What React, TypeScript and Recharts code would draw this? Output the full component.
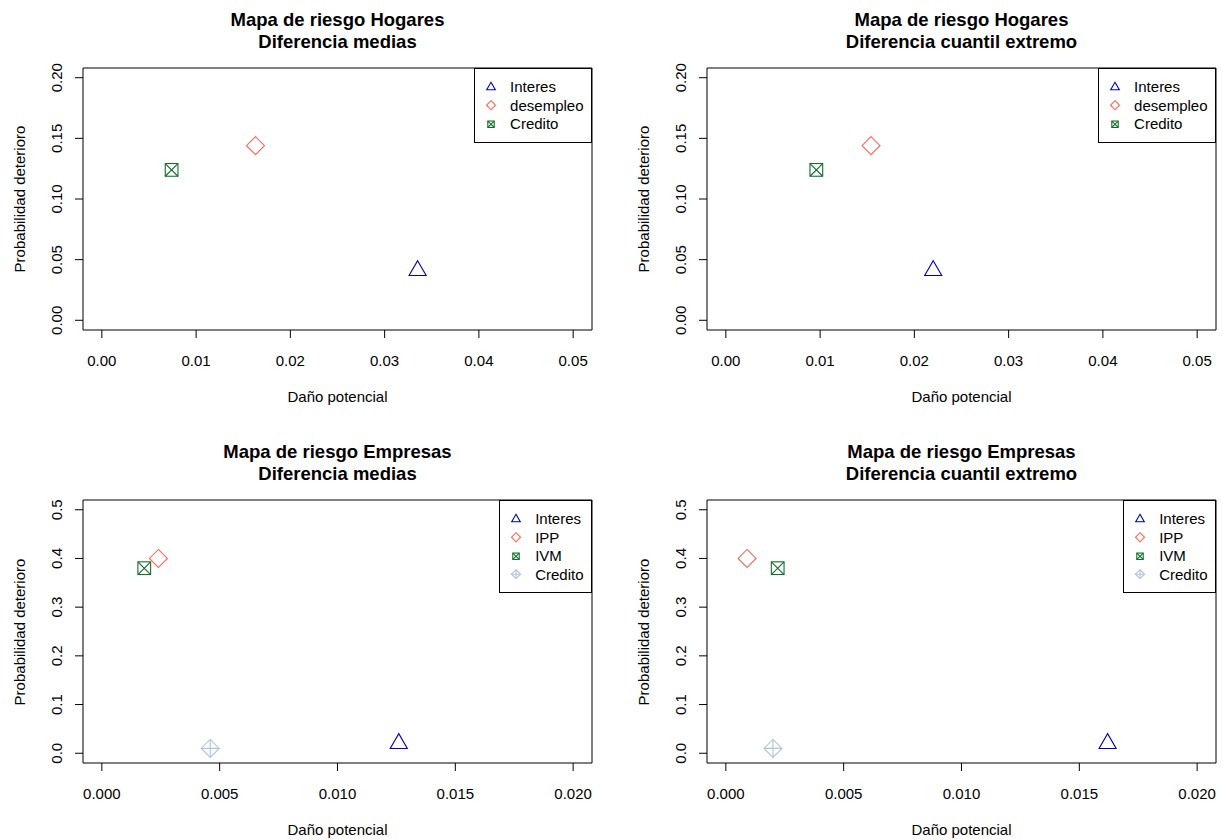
import { ScatterChart, Scatter, XAxis, YAxis, ReferenceArea } from 'recharts'

// Series names (legend order) for each row of panels
const hogaresSeries = ['Interes', 'desempleo', 'Credito']
const empresasSeries = ['Interes', 'IPP', 'IVM', 'Credito']

// Daño potencial (x) and Probabilidad deterioro (y), same order as the series
const hogaresMediasDano = [0.0335, 0.0163, 0.0074]
const hogaresMediasProb = [0.041, 0.144, 0.124]
const hogaresCuantilDano = [0.022, 0.0154, 0.0096]
const hogaresCuantilProb = [0.041, 0.144, 0.124]

const empresasMediasDano = [0.0126, 0.0024, 0.0018, 0.0046]
const empresasMediasProb = [0.02, 0.4, 0.38, 0.01]
const empresasCuantilDano = [0.0162, 0.0009, 0.0022, 0.002]
const empresasCuantilProb = [0.02, 0.4, 0.38, 0.01]

// Tick labels
const hogaresXTicks = [0, 0.01, 0.02, 0.03, 0.04, 0.05]
const hogaresYTicks = [0, 0.05, 0.1, 0.15, 0.2]
const empresasXTicks = [0, 0.005, 0.01, 0.015, 0.02]
const empresasYTicks = [0, 0.1, 0.2, 0.3, 0.4, 0.5]

// styles (R pch 2, 5, 7, 9)
type Shape = 'triangle' | 'diamond' | 'squareX' | 'diamondPlus'
const hogaresShapes: Shape[] = ['triangle', 'diamond', 'squareX']
const hogaresColors = ['#0000CD', '#FA6A5C', '#12702A']
const empresasShapes: Shape[] = ['triangle', 'diamond', 'squareX', 'diamondPlus']
const empresasColors = ['#0000CD', '#FA6A5C', '#12702A', '#B0C4DE']

const FONT = '"Liberation Sans", Arial, Helvetica, sans-serif'

// R pads the axis range by 4% on each side
const padRange = (ticks: number[]): [number, number] => {
  const lo = ticks[0]
  const hi = ticks[ticks.length - 1]
  const d = (hi - lo) * 0.04
  return [lo - d, hi + d]
}

function Marker({ cx, cy, shape, color, xc }: { cx: number; cy: number; shape: Shape; color: string; xc: number }) {
  const common = { fill: 'none', stroke: color, strokeWidth: 1.1 }
  if (shape === 'triangle') {
    const r = 1.555 * xc
    const hw = r * 0.866
    return <polygon points={`${cx},${cy - r} ${cx + hw},${cy + r / 2} ${cx - hw},${cy + r / 2}`} {...common} />
  }
  if (shape === 'diamond' || shape === 'diamondPlus') {
    const d = xc * 1.414
    return (
      <g {...common}>
        <polygon points={`${cx},${cy - d} ${cx + d},${cy} ${cx},${cy + d} ${cx - d},${cy}`} />
        {shape === 'diamondPlus' && (
          <path d={`M${cx - d},${cy}H${cx + d}M${cx},${cy - d}V${cy + d}`} />
        )}
      </g>
    )
  }
  return (
    <g {...common}>
      <rect x={cx - xc} y={cy - xc} width={xc * 2} height={xc * 2} />
      <path d={`M${cx - xc},${cy - xc}L${cx + xc},${cy + xc}M${cx - xc},${cy + xc}L${cx + xc},${cy - xc}`} />
    </g>
  )
}

interface PanelProps {
  left: number
  top: number
  width: number
  height: number
  mTop: number
  mRight: number
  mBottom: number
  yAxisWidth: number
  title: string[]
  series: string[]
  shapes: Shape[]
  colors: string[]
  xs: number[]
  ys: number[]
  xTicks: number[]
  yTicks: number[]
  xDigits: number
  yDigits: number
}

function Panel(p: PanelProps) {
  const xDomain = padRange(p.xTicks)
  const yDomain = padRange(p.yTicks)
  const plotLeft = p.yAxisWidth
  const plotRight = p.width - p.mRight
  const plotTop = p.mTop
  const plotBottom = p.height - p.mBottom - 40
  const cx = (plotLeft + plotRight) / 2
  const cy = (plotTop + plotBottom) / 2

  return (
    <div style={{ position: 'absolute', left: p.left, top: p.top, width: p.width, height: p.height }}>
      <ScatterChart
        width={p.width}
        height={p.height}
        margin={{ top: p.mTop, right: p.mRight, bottom: p.mBottom, left: 0 }}
      >
        <XAxis
          type="number"
          dataKey="x"
          domain={xDomain}
          ticks={p.xTicks}
          interval={0}
          allowDataOverflow
          height={40}
          axisLine={false}
          stroke="#000"
          tickLine={{ stroke: '#000' }}
          tickSize={8}
          tickMargin={0}
          tick={(t: any) => (
            <text x={t.x} y={t.y + 22} textAnchor="middle" dominantBaseline="central" fontSize={15} fontFamily={FONT} fill="#000">
              {Number(t.payload.value).toFixed(p.xDigits)}
            </text>
          )}
        />
        <YAxis
          type="number"
          dataKey="y"
          domain={yDomain}
          ticks={p.yTicks}
          interval={0}
          allowDataOverflow
          width={p.yAxisWidth}
          axisLine={false}
          stroke="#000"
          tickLine={{ stroke: '#000' }}
          tickSize={8}
          tickMargin={0}
          tick={(t: any) => (
            <text
              x={t.x - 18.5}
              y={t.y}
              transform={`rotate(-90, ${t.x - 18.5}, ${t.y})`}
              textAnchor="middle"
              dominantBaseline="central"
              fontSize={15}
              fontFamily={FONT}
              fill="#000"
            >
              {Number(t.payload.value).toFixed(p.yDigits)}
            </text>
          )}
        />
        <ReferenceArea
          x1={xDomain[0]}
          x2={xDomain[1]}
          y1={yDomain[0]}
          y2={yDomain[1]}
          fill="none"
          stroke="#000"
          strokeWidth={1}
          ifOverflow="visible"
        />
        {p.series.map((s, i) => (
          <Scatter
            key={s}
            name={s}
            data={[{ x: p.xs[i], y: p.ys[i] }]}
            isAnimationActive={false}
            shape={(d: any) => <Marker cx={d.cx} cy={d.cy} shape={p.shapes[i]} color={p.colors[i]} xc={6.35} />}
          />
        ))}
      </ScatterChart>

      {p.title.map((line, i) => (
        <div
          key={line}
          style={{
            position: 'absolute',
            left: plotLeft,
            width: plotRight - plotLeft,
            top: plotTop - (i === 0 ? 48.5 : 26) - 11,
            height: 22,
            lineHeight: '22px',
            textAlign: 'center',
            fontFamily: FONT,
            fontWeight: 'bold',
            fontSize: 18.5,
            whiteSpace: 'nowrap',
          }}
        >
          {line}
        </div>
      ))}

      <div
        style={{
          position: 'absolute',
          left: cx,
          top: plotBottom + 66,
          transform: 'translate(-50%, -50%)',
          fontFamily: FONT,
          fontSize: 15,
          whiteSpace: 'nowrap',
        }}
      >
        Daño potencial
      </div>
      <div
        style={{
          position: 'absolute',
          left: plotLeft - 64,
          top: cy,
          transform: 'translate(-50%, -50%) rotate(-90deg)',
          fontFamily: FONT,
          fontSize: 15,
          whiteSpace: 'nowrap',
        }}
      >
        Probabilidad deterioro
      </div>

      <div
        style={{
          position: 'absolute',
          right: p.mRight,
          top: plotTop,
          border: '1px solid #000',
          background: '#fff',
          padding: '8.5px 7.5px 8.5px 7px',
          fontFamily: FONT,
          fontSize: 15,
        }}
      >
        {p.series.map((s, i) => (
          <div key={s} style={{ display: 'flex', alignItems: 'center', height: 18.5, whiteSpace: 'nowrap' }}>
            <svg width={18} height={18.5} style={{ marginRight: 10, flex: 'none' }}>
              <Marker cx={9} cy={9.25} shape={p.shapes[i]} color={p.colors[i]} xc={3.2} />
            </svg>
            <span>{s}</span>
          </div>
        ))}
      </div>
    </div>
  )
}

export default function App() {
  return (
    <div style={{ position: 'absolute', left: 0, top: 0, width: 1223, height: 840, background: '#fff' }}>
      <Panel
        left={0} top={0} width={611} height={420}
        mTop={68} mRight={19} mBottom={50} yAxisWidth={83}
        title={['Mapa de riesgo Hogares', 'Diferencia medias']}
        series={hogaresSeries} shapes={hogaresShapes} colors={hogaresColors}
        xs={hogaresMediasDano} ys={hogaresMediasProb}
        xTicks={hogaresXTicks} yTicks={hogaresYTicks} xDigits={2} yDigits={2}
      />
      <Panel
        left={611} top={0} width={612} height={420}
        mTop={68} mRight={7} mBottom={50} yAxisWidth={96}
        title={['Mapa de riesgo Hogares', 'Diferencia cuantil extremo']}
        series={hogaresSeries} shapes={hogaresShapes} colors={hogaresColors}
        xs={hogaresCuantilDano} ys={hogaresCuantilProb}
        xTicks={hogaresXTicks} yTicks={hogaresYTicks} xDigits={2} yDigits={2}
      />
      <Panel
        left={0} top={420} width={611} height={420}
        mTop={80} mRight={19} mBottom={37} yAxisWidth={83}
        title={['Mapa de riesgo Empresas', 'Diferencia medias']}
        series={empresasSeries} shapes={empresasShapes} colors={empresasColors}
        xs={empresasMediasDano} ys={empresasMediasProb}
        xTicks={empresasXTicks} yTicks={empresasYTicks} xDigits={3} yDigits={1}
      />
      <Panel
        left={611} top={420} width={612} height={420}
        mTop={80} mRight={7} mBottom={37} yAxisWidth={96}
        title={['Mapa de riesgo Empresas', 'Diferencia cuantil extremo']}
        series={empresasSeries} shapes={empresasShapes} colors={empresasColors}
        xs={empresasCuantilDano} ys={empresasCuantilProb}
        xTicks={empresasXTicks} yTicks={empresasYTicks} xDigits={3} yDigits={1}
      />
    </div>
  )
}
